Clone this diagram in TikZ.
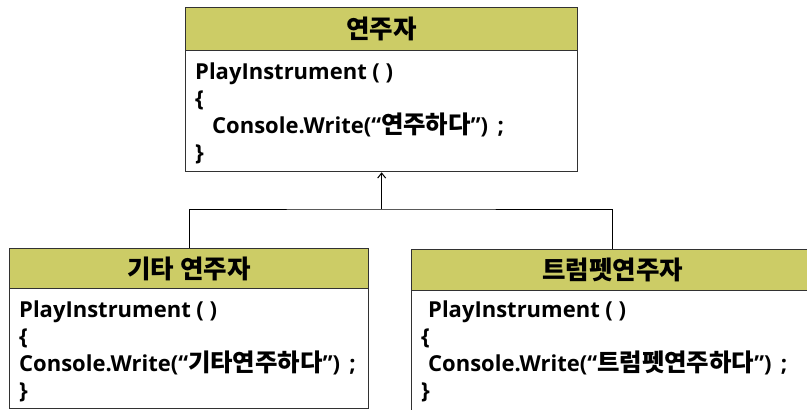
\documentclass[tikz,border=0pt]{standalone}
\usepackage{fontspec}
\setmainfont{Open Sans}
\newfontfamily\kr{Noto Sans CJK KR}[Scale=1.11]
\usetikzlibrary{arrows.meta}
\definecolor{hdr}{RGB}{204,204,102}
\definecolor{edge}{RGB}{50,50,50}
\begin{document}
\begin{tikzpicture}[x=1pt,y=-1pt,
  box/.style={draw=edge, line width=1.3pt, anchor=north west, inner sep=0pt, fill=white},
  head/.style={box, fill=hdr},
  code/.style={anchor=base west, inner sep=0pt, font=\fontsize{22}{26}\selectfont\bfseries},
  title/.style={inner sep=0pt, font=\fontsize{23}{27}\selectfont\bfseries\kr},
  link/.style={draw=black, line width=1pt}]
\useasboundingbox (0,0) rectangle (807,410);
\clip (0,0) rectangle (807,410);
% top class
\node[head, minimum width=392pt, minimum height=43pt] (tophead) at (185,7) {};
\node[box, minimum width=392pt, minimum height=121pt] (topbody) at (185,50) {};
\node[title] (toptitle) at (tophead.center) {연주자};
\node[code] (t1) at (195,79) {PlayInstrument ( )};
\node[code] (t2) at (195,106) {\{};
\node[code] (t3) at (212,133) {Console.Write(“{\kr 연주하다}”)\, ;};
\node[code] (t4) at (195,160) {\}};
% left class
\node[head, minimum width=359pt, minimum height=40pt] (lefthead) at (9,248) {};
\node[box, minimum width=359pt, minimum height=120pt] (leftbody) at (9,288) {};
\node[title] (lefttitle) at (lefthead.center) {기타 연주자};
\node[code] (l1) at (19,317) {PlayInstrument ( )};
\node[code] (l2) at (19,344) {\{};
\node[code] (l3) at (19,371) {Console.Write(“{\kr 기타연주하다}”)\, ;};
\node[code] (l4) at (19,398) {\}};
% right class
\node[head, minimum width=402pt, minimum height=41pt] (righthead) at (411,249) {};
\node[box, minimum width=402pt, minimum height=130pt] (rightbody) at (411,290) {};
\node[title] (righttitle) at (righthead.center) {트럼펫연주자};
\node[code] (r1) at (428,317) {PlayInstrument ( )};
\node[code] (r2) at (421,344) {\{};
\node[code] (r3) at (428,371) {Console.Write(“{\kr 트럼펫연주하다}”)\, ;};
\node[code] (r4) at (421,398) {\}};
% connectors
\coordinate (join) at (topbody.south |- 0,209);
\draw[link] (lefthead.north) |- (join) -| (righthead.north);
\draw[link, -{Straight Barb[length=5pt,width=8pt]}] (join) -- (topbody.south);
\end{tikzpicture}
\end{document}
